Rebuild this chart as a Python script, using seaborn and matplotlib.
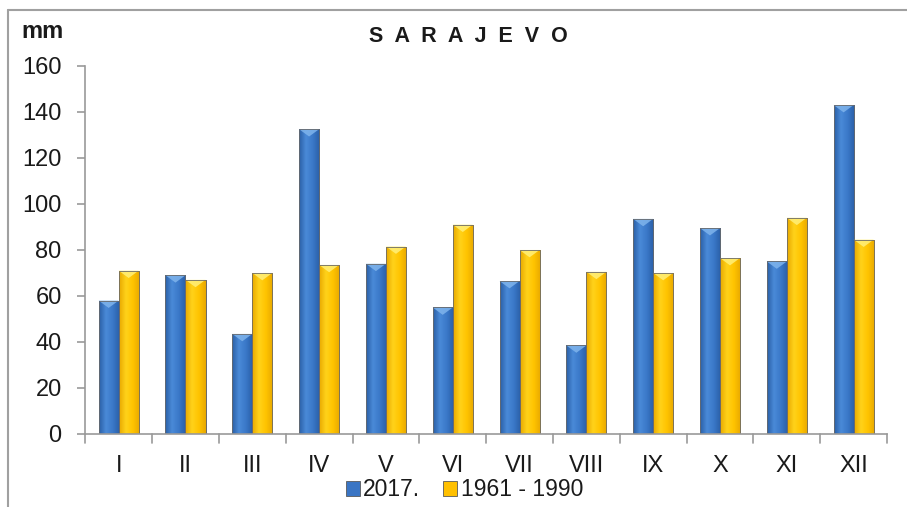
import matplotlib
matplotlib.use("Agg")
import matplotlib.pyplot as plt
import seaborn as sns
import pandas as pd
import numpy as np
from matplotlib.lines import Line2D
from matplotlib.colors import LinearSegmentedColormap
from matplotlib.patches import Polygon

months = ["I", "II", "III", "IV", "V", "VI", "VII", "VIII", "IX", "X", "XI", "XII"]
y2017 = [58, 69, 43.5, 132.5, 74, 55, 66.5, 38.5, 93.5, 89.5, 75, 143]
y6190 = [71, 67, 70, 73.5, 81.5, 91, 80, 70.5, 70, 76.5, 94, 84.5]
series = ["2017.", "1961 - 1990"]

df = pd.DataFrame({
    "month": months * 2,
    "value": y2017 + y6190,
    "series": [series[0]] * 12 + [series[1]] * 12,
})

sns.set_style("white")
plt.rcParams["font.family"] = ["Liberation Sans", "DejaVu Sans"]

fig = plt.figure(figsize=(9.07, 5.07), dpi=100)
ax = fig.add_axes([0.094, 0.144, 0.884, 0.726])

palette = {series[0]: "#3a75c4", series[1]: "#ffc000"}
sns.barplot(data=df, x="month", y="value", hue="series", order=months,
            hue_order=series, palette=palette, width=0.6, dodge=True,
            edgecolor="#5a5a5a", linewidth=0.6, saturation=1, ax=ax, legend=True)

ax.set_ylim(0, 160)
ax.set_xlim(-0.5, 11.5)

# bevelled look: horizontal gradient inside each bar + light cap
grads = {
    "#3a75c4": (["#2a5fa6", "#4a8ad8", "#3a78c8", "#2a5fa6"], "#7fb4ec"),
    "#ffc000": (["#e8a800", "#ffd21a", "#ffc400", "#e8a800"], "#fff07a"),
}
bars = [p for p in ax.patches if p.get_height() > 0]
for p in bars:
    fc = matplotlib.colors.to_hex(p.get_facecolor())
    if fc not in grads:
        continue
    cols, capc = grads[fc]
    cmap = LinearSegmentedColormap.from_list("g", cols)
    x0, w, h = p.get_x(), p.get_width(), p.get_height()
    g = np.linspace(0, 1, 64).reshape(1, -1)
    im = ax.imshow(g, cmap=cmap, aspect="auto", extent=(x0, x0 + w, 0, h),
                   zorder=p.get_zorder() + 0.1, interpolation="bilinear")
    im.set_clip_path(p)
    cap = Polygon([(x0, h), (x0 + w, h), (x0 + w / 2, h - 3.2)], closed=True,
                  facecolor=capc, edgecolor="none", alpha=0.85,
                  zorder=p.get_zorder() + 0.2)
    ax.add_patch(cap)
    edge = plt.Rectangle((x0, 0), w, h, fill=False, edgecolor="#6a6a6a",
                         lw=0.6, zorder=p.get_zorder() + 0.3)
    ax.add_patch(edge)

ax.set_ylim(0, 160)
ax.set_xlim(-0.5, 11.5)
ax.set_yticks(range(0, 161, 20))
ax.tick_params(axis="y", labelsize=17, length=6, width=1.2, color="#999999",
               direction="out", left=True, pad=11, labelcolor="#1a1a1a")
ax.tick_params(axis="x", labelsize=17, length=0, pad=15, labelcolor="#1a1a1a")
for sp in ["top", "right"]:
    ax.spines[sp].set_visible(False)
for sp in ["left", "bottom"]:
    ax.spines[sp].set_color("#999999")
    ax.spines[sp].set_linewidth(1.2)
    ax.spines[sp].set_zorder(5)
# category separator ticks on x axis
for b in [i - 0.5 for i in range(13)]:
    ax.plot([b, b], [0, -4], color="#999999", lw=1.2, clip_on=False)
ax.set_xlabel("")
ax.set_ylabel("")
ax.grid(False)

fig.text(0.516, 0.928, "S  A  R  A  J  E  V  O", ha="center", va="center",
         fontsize=15.5, fontweight="bold", color="#1a1a1a")
fig.text(0.024, 0.937, "mm", ha="left", va="center", fontsize=17,
         fontweight="bold", color="#1a1a1a")

leg = ax.legend(loc="center", bbox_to_anchor=(0.473, -0.152), ncol=2,
                frameon=False, fontsize=16.5, handlelength=0.6, handleheight=0.6,
                handletextpad=0.15, columnspacing=1.0, borderaxespad=0)
for t in leg.get_texts():
    t.set_color("#1a1a1a")

# figure frame: only left and top edges visible
fig.lines.append(Line2D([0.009, 0.009], [0.0, 0.981], transform=fig.transFigure,
                        color="#a0a0a0", lw=1.5))
fig.lines.append(Line2D([0.009, 1.0], [0.981, 0.981], transform=fig.transFigure,
                        color="#a0a0a0", lw=1.5))

fig.savefig("out.png", dpi=100)
